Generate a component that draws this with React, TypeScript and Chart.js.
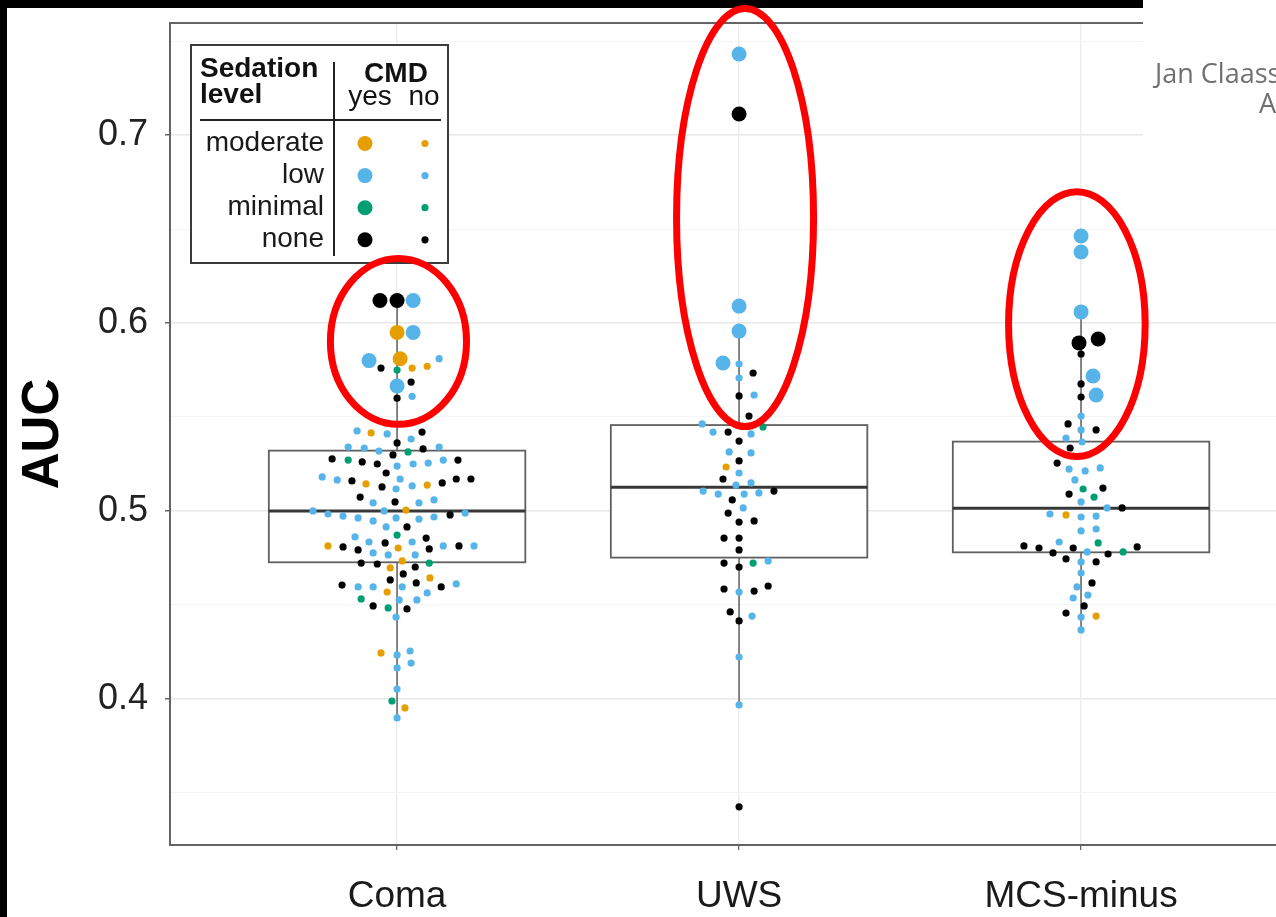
import React, { useEffect, useRef } from "react";
import { Chart, registerables } from "chart.js";

Chart.register(...registerables);

// ---------- data ----------
const categories = ["Coma", "UWS", "MCS-minus"];
const yMajorTicks = [0.4, 0.5, 0.6, 0.7];
const yMinorTicks = [0.35, 0.45, 0.55, 0.65, 0.75];
const sedationLevels = ["moderate", "low", "minimal", "none"];
const sedationColors = ["#E69F00", "#56B4E9", "#009E73", "#000000"];
const cmdLabels = ["yes", "no"];
const legendTitle = ["Sedation", "level"];
const legendCmdTitle = "CMD";
const yAxisTitle = "AUC";
const creditLines = ["Jan Claassen", "A"];

// [offset from category, AUC, sedation index, CMD yes(1)/no(0)]
type P = [number, number, number, number];

const comaPoints: P[] = [
  [-0.05, 0.612, 3, 1], [0, 0.612, 3, 1], [0.047, 0.612, 1, 1], [0, 0.595, 0, 1], [0.047, 0.595, 1, 1],
  [-0.082, 0.58, 1, 1], [0.009, 0.581, 0, 1], [0, 0.5665, 1, 1],
  [0.123, 0.581, 1, 0], [-0.047, 0.576, 3, 0], [0, 0.575, 2, 0], [0.044, 0.576, 0, 0], [0.088, 0.577, 0, 0],
  [0.041, 0.5686, 3, 0], [0, 0.56, 3, 0], [0.044, 0.561, 1, 0],
  [-0.117, 0.5426, 1, 0], [-0.076, 0.5415, 0, 0], [-0.029, 0.541, 1, 0], [0.073, 0.542, 3, 0], [0.041, 0.5383, 1, 0], [0, 0.5362, 3, 0],
  [-0.143, 0.534, 1, 0], [-0.096, 0.5335, 1, 0], [-0.053, 0.5319, 1, 0], [0.076, 0.533, 3, 0], [0.123, 0.534, 1, 0], [0.032, 0.5314, 2, 0], [-0.012, 0.5298, 3, 0],
  [-0.19, 0.5277, 3, 0], [-0.143, 0.5271, 2, 0], [-0.102, 0.5261, 3, 0], [-0.058, 0.525, 3, 0], [0, 0.5239, 1, 0], [0.047, 0.525, 1, 0], [0.091, 0.5255, 1, 0], [0.135, 0.5271, 1, 0], [0.178, 0.5271, 3, 0],
  [-0.032, 0.5202, 3, 0], [-0.219, 0.5181, 1, 0], [-0.175, 0.5165, 1, 0], [-0.132, 0.516, 3, 0], [-0.091, 0.5144, 0, 0], [-0.044, 0.5128, 3, 0], [0.009, 0.517, 1, 0], [0.044, 0.5133, 1, 0], [0.088, 0.5138, 0, 0], [0.132, 0.5149, 3, 0], [0.173, 0.517, 3, 0], [0.216, 0.517, 3, 0],
  [-0.003, 0.5117, 1, 0], [-0.108, 0.5074, 3, 0], [-0.006, 0.5048, 3, 0], [-0.07, 0.5043, 1, 0], [0.064, 0.5043, 1, 0], [0.108, 0.5059, 1, 0],
  [-0.246, 0.5, 1, 0], [-0.202, 0.4984, 1, 0], [-0.158, 0.4973, 1, 0], [-0.114, 0.4963, 1, 0], [-0.07, 0.4947, 1, 0], [-0.038, 0.5, 1, 0], [0.026, 0.5005, 0, 0], [-0.003, 0.4963, 1, 0], [0.064, 0.4957, 1, 0], [0.108, 0.4968, 1, 0], [0.155, 0.4979, 3, 0], [0.199, 0.4989, 1, 0],
  [-0.032, 0.4915, 1, 0], [0.029, 0.4915, 3, 0], [0, 0.4872, 2, 0], [-0.123, 0.4862, 1, 0], [-0.082, 0.4835, 1, 0], [-0.035, 0.483, 3, 0], [0.085, 0.4856, 3, 0], [0.044, 0.4835, 1, 0],
  [-0.202, 0.4814, 0, 0], [-0.158, 0.4809, 3, 0], [-0.114, 0.4793, 3, 0], [0.003, 0.4803, 0, 0], [0.094, 0.4798, 3, 0], [0.135, 0.4814, 1, 0], [0.181, 0.4814, 3, 0], [0.225, 0.4814, 1, 0],
  [-0.07, 0.4777, 1, 0], [-0.026, 0.4766, 1, 0], [0.053, 0.4766, 1, 0], [0.015, 0.4734, 0, 0],
  [-0.105, 0.4723, 3, 0], [-0.058, 0.4718, 3, 0], [0.094, 0.4723, 2, 0], [-0.02, 0.4697, 0, 0], [0.053, 0.4702, 3, 0],
  [0.018, 0.4665, 3, 0], [0.096, 0.4644, 0, 0], [-0.02, 0.4633, 3, 0], [0.056, 0.4617, 3, 0], [0.015, 0.4596, 1, 0], [-0.161, 0.4606, 3, 0], [-0.114, 0.4596, 1, 0], [-0.07, 0.4596, 1, 0], [0.129, 0.4596, 3, 0], [0.173, 0.4612, 1, 0],
  [-0.029, 0.4569, 0, 0], [0.088, 0.4564, 1, 0], [-0.105, 0.4532, 2, 0], [0.006, 0.4527, 1, 0], [0.058, 0.4527, 1, 0], [-0.07, 0.4495, 3, 0], [-0.026, 0.4484, 2, 0], [0.029, 0.4479, 3, 0], [-0.003, 0.4436, 1, 0],
  [-0.047, 0.4245, 0, 0], [0, 0.4234, 1, 0], [0.038, 0.4255, 1, 0], [0.041, 0.4191, 1, 0], [0, 0.4165, 1, 0], [0, 0.4053, 1, 0], [-0.015, 0.3989, 2, 0], [0.023, 0.3952, 0, 0], [0, 0.3899, 1, 0],
];

const uwsPoints: P[] = [
  [0, 0.7431, 1, 1], [0, 0.7112, 3, 1], [0, 0.609, 1, 1], [0, 0.5957, 1, 1], [-0.047, 0.5787, 1, 1],
  [0, 0.5782, 1, 0], [0, 0.5707, 1, 0], [0.041, 0.5734, 3, 0], [0, 0.5612, 3, 0], [0.044, 0.5617, 1, 0], [0.029, 0.5505, 3, 0],
  [-0.108, 0.5463, 1, 0], [-0.076, 0.542, 1, 0], [-0.032, 0.542, 3, 0], [0.035, 0.541, 1, 0], [0.07, 0.5447, 2, 0], [0, 0.5372, 3, 0],
  [-0.029, 0.5314, 1, 0], [0.035, 0.5309, 1, 0], [0, 0.5266, 3, 0], [-0.038, 0.5234, 0, 0], [0, 0.5202, 1, 0], [-0.047, 0.517, 3, 0],
  [-0.009, 0.5138, 1, 0], [0.035, 0.5149, 1, 0], [-0.105, 0.5106, 1, 0], [-0.061, 0.509, 1, 0], [0.015, 0.509, 1, 0], [0.058, 0.5096, 1, 0],
  [0.102, 0.5106, 3, 0], [-0.02, 0.5059, 3, 0], [0.012, 0.5016, 1, 0], [-0.032, 0.4989, 3, 0], [0, 0.4941, 3, 0], [0.044, 0.4947, 3, 0],
  [-0.044, 0.4856, 3, 0], [0, 0.4856, 3, 0], [0, 0.4793, 3, 0], [-0.044, 0.4723, 3, 0], [0, 0.4702, 3, 0], [0.041, 0.4723, 2, 0],
  [0.085, 0.4734, 1, 0], [-0.044, 0.4585, 3, 0], [0, 0.4569, 1, 0], [0.044, 0.4574, 3, 0], [0.085, 0.4601, 3, 0], [-0.026, 0.4463, 3, 0],
  [0.038, 0.4441, 1, 0], [0, 0.4415, 3, 0], [0, 0.4223, 1, 0], [0, 0.3968, 1, 0], [0, 0.3426, 3, 0],
];

const mcsPoints: P[] = [
  [0, 0.6463, 1, 1], [0, 0.6378, 1, 1], [0, 0.6059, 1, 1], [-0.006, 0.5894, 3, 1], [0.05, 0.5915, 3, 1], [0.035, 0.5718, 1, 1], [0.044, 0.5617, 1, 1],
  [0, 0.5835, 3, 0], [0, 0.5676, 3, 0], [0, 0.5606, 3, 0], [0, 0.5505, 1, 0], [-0.038, 0.5463, 3, 0], [0, 0.5431, 1, 0], [0.044, 0.5431, 3, 0],
  [-0.044, 0.5388, 1, 0], [0.003, 0.5367, 1, 0], [-0.032, 0.5335, 3, 0],
  [-0.07, 0.5255, 3, 0], [-0.035, 0.5223, 1, 0], [0.012, 0.5213, 1, 0], [0.056, 0.5229, 1, 0], [-0.018, 0.5165, 1, 0], [0.006, 0.5117, 2, 0],
  [0.064, 0.5122, 3, 0], [-0.035, 0.509, 3, 0], [0.038, 0.5074, 2, 0], [0, 0.5048, 1, 0], [0.076, 0.5016, 1, 0], [0.12, 0.5016, 3, 0],
  [-0.091, 0.4984, 1, 0], [-0.044, 0.4979, 0, 0], [0, 0.4968, 1, 0], [0.044, 0.4973, 1, 0], [0, 0.4894, 1, 0], [0.044, 0.4904, 1, 0],
  [-0.064, 0.4835, 1, 0], [0.05, 0.483, 2, 0], [-0.167, 0.4814, 3, 0], [-0.123, 0.4803, 3, 0], [-0.023, 0.4803, 3, 0], [-0.082, 0.4777, 3, 0],
  [0.018, 0.4782, 1, 0], [0.079, 0.4771, 3, 0], [0.123, 0.4782, 2, 0], [0.164, 0.4809, 3, 0], [-0.044, 0.4745, 3, 0], [0.044, 0.4729, 3, 0],
  [0, 0.4729, 1, 0], [0, 0.467, 1, 0], [0.032, 0.4617, 3, 0], [-0.012, 0.4596, 1, 0], [0.02, 0.4553, 1, 0], [-0.023, 0.4537, 1, 0],
  [0.009, 0.4495, 3, 0], [-0.044, 0.4457, 3, 0], [0.044, 0.4441, 0, 0], [0, 0.4436, 1, 0], [0, 0.4367, 1, 0],
];

// [lower whisker, Q1, median, Q3, upper whisker]
const comaBox = [0.3899, 0.4727, 0.5, 0.5321, 0.612];
const uwsBox = [0.3968, 0.4752, 0.5126, 0.5457, 0.5957];
const mcsBox = [0.4367, 0.478, 0.5014, 0.5369, 0.6059];

// highlight ellipses in data units: [center x, center AUC, x radius, AUC radius]
const highlightEllipses = [
  [1.004, 0.5902, 0.199, 0.0441],
  [2.0175, 0.6561, 0.2003, 0.1112],
  [2.9877, 0.5994, 0.1997, 0.0704],
];

const groupPoints = [comaPoints, uwsPoints, mcsPoints];
const groupBoxes = [comaBox, uwsBox, mcsBox];

// ---------- layout constants ----------
const W = 1276;
const H = 917;
const X_MIN = 0.336;
const X_MAX = 3.57;
const Y_MIN = 0.3223;
const Y_MAX = 0.7596;
const BOX_HALF = 0.375;
const FONT = '"Liberation Sans", Arial, Helvetica, sans-serif';

const isMajor = (v: number) => yMajorTicks.some((t) => Math.abs(t - v) < 1e-6);

export default function App() {
  const ref = useRef<HTMLCanvasElement | null>(null);

  useEffect(() => {
    const canvas = ref.current;
    if (!canvas) return;

    const datasets: any[] = [];
    [0, 1].forEach((cmd) => {
      sedationLevels.forEach((_, s) => {
        const data: { x: number; y: number }[] = [];
        groupPoints.forEach((pts, gi) => {
          pts.forEach((p) => {
            if (p[2] === s && p[3] === cmd) data.push({ x: gi + 1 + p[0], y: p[1] });
          });
        });
        datasets.push({
          label: `${sedationLevels[s]}-${cmd ? "yes" : "no"}`,
          data,
          backgroundColor: sedationColors[s],
          borderWidth: 0,
          pointRadius: cmd ? 7.5 : 3.6,
          pointHoverRadius: cmd ? 7.5 : 3.6,
        });
      });
    });

    const bgPlugin = {
      id: "bg",
      beforeDraw(chart: any) {
        const c = chart.ctx;
        c.save();
        c.fillStyle = "#ffffff";
        c.fillRect(0, 0, chart.width, chart.height);
        c.restore();
      },
    };

    const boxPlugin = {
      id: "boxes",
      beforeDatasetsDraw(chart: any) {
        const c = chart.ctx;
        const xs = chart.scales.x;
        const ys = chart.scales.y;
        const ca = chart.chartArea;
        c.save();
        groupBoxes.forEach((b, i) => {
          const cx = xs.getPixelForValue(i + 1);
          const xl = xs.getPixelForValue(i + 1 - BOX_HALF);
          const xr = xs.getPixelForValue(i + 1 + BOX_HALF);
          const [lo, q1, med, q3, hi] = b.map((v) => ys.getPixelForValue(v));
          c.strokeStyle = "#6a6a6a";
          c.lineWidth = 1.6;
          c.beginPath();
          c.moveTo(cx, q3);
          c.lineTo(cx, hi);
          c.moveTo(cx, q1);
          c.lineTo(cx, lo);
          c.stroke();
          c.fillStyle = "#ffffff";
          c.fillRect(xl, q3, xr - xl, q1 - q3);
          c.strokeStyle = "#606060";
          c.lineWidth = 1.8;
          c.strokeRect(xl, q3, xr - xl, q1 - q3);
          c.strokeStyle = "#383838";
          c.lineWidth = 3;
          c.beginPath();
          c.moveTo(xl, med);
          c.lineTo(xr, med);
          c.stroke();
        });
        // panel border
        c.strokeStyle = "#646464";
        c.lineWidth = 2;
        c.strokeRect(ca.left, ca.top, ca.right - ca.left + 20, ca.bottom - ca.top);
        c.restore();
      },
    };

    const overlayPlugin = {
      id: "overlay",
      afterDraw(chart: any) {
        const c = chart.ctx;
        const xs = chart.scales.x;
        const ys = chart.scales.y;
        c.save();

        // legend table
        const lx = 191, ly = 45, lw = 257, lh = 218;
        c.fillStyle = "#ffffff";
        c.fillRect(lx, ly, lw, lh);
        c.strokeStyle = "#3c3c3c";
        c.lineWidth = 2;
        c.strokeRect(lx, ly, lw, lh);
        c.fillStyle = "#111111";
        c.font = `bold 28px ${FONT}`;
        c.textAlign = "left";
        c.textBaseline = "alphabetic";
        c.fillText(legendTitle[0], 200, 77);
        c.fillText(legendTitle[1], 200, 103);
        c.textAlign = "center";
        c.fillText(legendCmdTitle, 396, 82);
        c.font = `28px ${FONT}`;
        c.fillText(cmdLabels[0], 370, 105);
        c.fillText(cmdLabels[1], 424, 105);
        c.strokeStyle = "#222222";
        c.lineWidth = 2;
        c.beginPath();
        c.moveTo(334, 62);
        c.lineTo(334, 256);
        c.moveTo(200, 120);
        c.lineTo(441, 120);
        c.stroke();
        c.textAlign = "right";
        sedationLevels.forEach((lab, i) => {
          const yb = 151 + 31.9 * i;
          const yc = 143.5 + 32.1 * i;
          c.fillStyle = "#1a1a1a";
          c.fillText(lab, 324, yb);
          c.fillStyle = sedationColors[i];
          c.beginPath();
          c.arc(365, yc, 7.5, 0, Math.PI * 2);
          c.fill();
          c.beginPath();
          c.arc(425, yc, 3.6, 0, Math.PI * 2);
          c.fill();
        });

        // surrounding screenshot frame
        c.fillStyle = "#000000";
        c.fillRect(0, 0, 1143, 8);
        c.fillRect(0, 0, 7, H);
        c.fillStyle = "#fefefe";
        c.fillRect(1143, 0, W - 1143, 148);
        c.fillStyle = "#707070";
        c.font = `27px "Open Sans", "DejaVu Sans", sans-serif`;
        c.textAlign = "left";
        c.fillText(creditLines[0], 1155, 83);
        c.fillText(creditLines[1], 1259, 113);

        // red highlight ellipses
        c.strokeStyle = "#ff0000";
        c.lineWidth = 7;
        highlightEllipses.forEach(([ex, ey, erx, ery]) => {
          const px = xs.getPixelForValue(ex);
          const py = ys.getPixelForValue(ey);
          const rx = Math.abs(xs.getPixelForValue(ex + erx) - px);
          const ry = Math.abs(ys.getPixelForValue(ey + ery) - py);
          c.beginPath();
          c.ellipse(px, py, rx, ry, 0, 0, Math.PI * 2);
          c.stroke();
        });
        c.restore();
      },
    };

    const chart = new Chart(canvas, {
      type: "scatter",
      data: { datasets },
      options: {
        animation: false,
        responsive: false,
        devicePixelRatio: 1,
        layout: { autoPadding: false, padding: { left: 0, right: 0, top: 23, bottom: 0 } },
        plugins: { legend: { display: false }, tooltip: { enabled: false } },
        scales: {
          x: {
            type: "linear",
            min: X_MIN,
            max: X_MAX,
            afterBuildTicks: (s: any) => {
              s.ticks = categories.map((_, i) => ({ value: i + 1 }));
            },
            afterFit: (s: any) => {
              s.height = 72;
              s.paddingLeft = 0;
              s.paddingRight = 0;
            },
            ticks: {
              autoSkip: false,
              maxRotation: 0,
              padding: 25,
              color: "#1a1a1a",
              font: { family: FONT, size: 37 },
              callback: (v: any) => categories[Math.round(Number(v)) - 1] ?? "",
            },
            grid: { color: "#ececec", lineWidth: 1.3, tickColor: "#666666", tickLength: 5 },
            border: { display: false },
          },
          y: {
            type: "linear",
            min: Y_MIN,
            max: Y_MAX,
            afterBuildTicks: (s: any) => {
              s.ticks = [...yMinorTicks, ...yMajorTicks].sort((a, b) => a - b).map((v) => ({ value: v }));
            },
            afterFit: (s: any) => {
              s.width = 170;
              s.paddingTop = 0;
              s.paddingBottom = 0;
            },
            ticks: {
              autoSkip: false,
              padding: 17,
              color: "#222222",
              font: { family: FONT, size: 36 },
              callback: (v: any) => (isMajor(Number(v)) ? Number(v).toFixed(1) : ""),
            },
            grid: {
              color: (ctx: any) => (isMajor(ctx.tick?.value ?? 0) ? "#e8e8e8" : "#f4f4f4"),
              lineWidth: (ctx: any) => (isMajor(ctx.tick?.value ?? 0) ? 1.5 : 1),
              tickColor: (ctx: any) => (isMajor(ctx.tick?.value ?? 0) ? "#666666" : "rgba(0,0,0,0)"),
              tickLength: 5,
            },
            border: { display: false },
            title: {
              display: true,
              text: yAxisTitle,
              color: "#000000",
              font: { family: FONT, size: 51, weight: "bold" },
              padding: { top: 13, bottom: 0 },
            },
          },
        },
      } as any,
      plugins: [bgPlugin, boxPlugin, overlayPlugin],
    });

    return () => chart.destroy();
  }, []);

  return (
    <div style={{ position: "fixed", left: 0, top: 0, width: W, height: H, background: "#fff", overflow: "hidden" }}>
      <canvas ref={ref} width={W} height={H} style={{ display: "block", width: W, height: H }} />
    </div>
  );
}
